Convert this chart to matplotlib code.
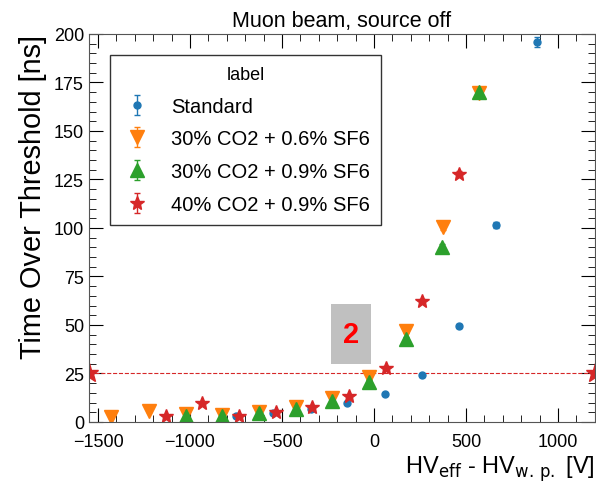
import matplotlib
matplotlib.use("Agg")
import matplotlib.pyplot as plt
from matplotlib.patches import Rectangle
from matplotlib.ticker import MultipleLocator

plt.rcParams['font.family'] = ['Liberation Sans', 'DejaVu Sans']

# 데이터
std_x = [-750, -550, -345, -145, 60, 260, 462, 663, 886]
std_y = [3.0, 4.6, 6.5, 9.5, 14.4, 24, 49.5, 101.5, 196]
std_err = [0.5, 0.5, 0.5, 0.5, 0.6, 0.8, 1.0, 1.5, 2.5]

co2_06_x = [-1429, -1223, -1022, -826, -625, -424, -228, -27, 174, 375, 571]
co2_06_y = [2.6, 5.7, 4.0, 3.6, 5.0, 7.7, 12.4, 23, 47, 100.5, 169.6]
co2_06_err = [0.4, 0.4, 0.4, 0.4, 0.4, 0.5, 0.6, 0.8, 1.0, 1.5, 2.5]

co2_09_x = [-1022, -826, -625, -424, -228, -27, 174, 370, 571]
co2_09_y = [3.0, 2.8, 4.6, 6.7, 10.8, 20.6, 43, 90, 170]
co2_09_err = [0.4, 0.4, 0.4, 0.5, 0.6, 0.8, 1.0, 1.5, 2.5]

co2_40_x = [-1130, -935, -734, -533, -337, -136, 65, 261, 462]
co2_40_y = [3.0, 10.0, 3.1, 5.0, 7.6, 13.2, 28, 62.4, 128]
co2_40_err = [0.4, 0.5, 0.4, 0.4, 0.5, 0.6, 0.8, 1.0, 1.5]

threshold = 25
x_range = [-1550, 1200]

fig = plt.figure(figsize=(5.96, 4.85), dpi=100)
ax = fig.add_axes([0.149, 0.128, 0.849, 0.80])

ax.errorbar(std_x, std_y, yerr=std_err, fmt='o', color='#1f77b4', ms=5,
            capsize=2, elinewidth=1, label='Standard')
ax.errorbar(co2_06_x, co2_06_y, yerr=co2_06_err, fmt='v', color='#ff7f0e', ms=10,
            capsize=2, elinewidth=1, label='30% CO2 + 0.6% SF6')
ax.errorbar(co2_09_x, co2_09_y, yerr=co2_09_err, fmt='^', color='#2ca02c', ms=10,
            capsize=2, elinewidth=1, label='30% CO2 + 0.9% SF6')
ax.errorbar(co2_40_x, co2_40_y, yerr=co2_40_err, fmt='*', color='#d62728', ms=10,
            capsize=2, elinewidth=1, label='40% CO2 + 0.9% SF6')

# 기준선 (25 ns)
ax.plot(x_range, [threshold, threshold], color='#d62728', ls='--', lw=0.8,
        marker='*', ms=14, clip_on=True)

# 회색 박스 안의 "2"
ax.add_patch(Rectangle((-234, 30), 218, 31, facecolor='#c0c0c0', edgecolor='none'))
ax.text(-125, 45.5, '2', color='red', fontsize=21, fontweight='bold',
        ha='center', va='center')

ax.set_xlim(x_range)
ax.set_ylim(0, 200)
ax.xaxis.set_major_locator(MultipleLocator(500))
ax.xaxis.set_minor_locator(MultipleLocator(100))
ax.yaxis.set_major_locator(MultipleLocator(25))
ax.yaxis.set_minor_locator(MultipleLocator(5))
ax.tick_params(which='both', direction='in', top=True, right=True, labelsize=13)
ax.tick_params(axis='x', which='major', pad=8)
ax.tick_params(which='major', length=10)
ax.tick_params(which='minor', length=5)
for s in ax.spines.values():
    s.set_color('#555555')

ax.set_title('Muon beam, source off', fontsize=15.5, pad=6)
ax.set_ylabel('Time Over Threshold [ns]', fontsize=20.8, loc='top', labelpad=5)
ax.set_xlabel(r'HV$_{\rm eff}$ - HV$_{\rm w.\,p.}$ [V]', fontsize=17, loc='right',
              labelpad=2)

leg = ax.legend(title='label', loc='upper left', bbox_to_anchor=(0.0415, 0.946),
                borderaxespad=0, fontsize=14.5, title_fontsize=13, fancybox=False,
                framealpha=1, edgecolor='#333333', borderpad=0.55,
                labelspacing=0.68, handletextpad=0.9, handlelength=1.6)
leg.get_frame().set_linewidth(1)

plt.savefig('out.png', dpi=100)
